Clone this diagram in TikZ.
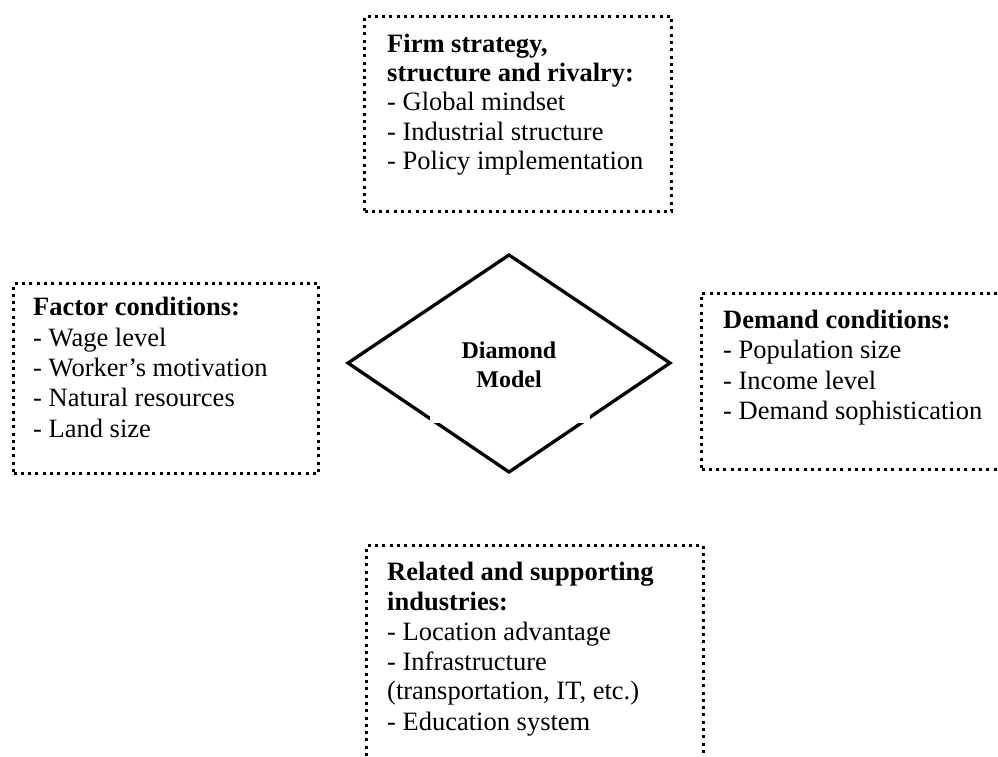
\documentclass[tikz,border=0pt]{standalone}
\usepackage{fontspec}
\setmainfont{Liberation Serif}
\begin{document}
\begin{tikzpicture}[x=1pt,y=-1pt,
  dotbox/.style={draw, line width=3pt, dash pattern=on 3pt off 4.3pt, inner sep=0pt, anchor=north west},
  txt/.style={anchor=base west, inner sep=0pt, font=\fontsize{26.5}{30}\selectfont},
  hd/.style={anchor=base west, inner sep=0pt, font=\fontsize{26.5}{30}\selectfont\bfseries},
  dtxt/.style={anchor=base, inner sep=0pt, font=\fontsize{24}{28}\selectfont\bfseries}]
\useasboundingbox (0,0) rectangle (998,757);
\clip (0,0) rectangle (998,757);

% boxes
\node[dotbox, minimum width=307pt, minimum height=195pt] (firm) at (363,15) {};
\node[dotbox, minimum width=305pt, minimum height=190pt] (factor) at (12,282) {};
\node[dotbox, minimum width=330pt, minimum height=176pt] (demand) at (700,292) {};
\node[dotbox, minimum width=337pt, minimum height=250pt] (related) at (365,544) {};

% firm strategy text
\node[hd]  (f1) at (387,53)  {Firm strategy,};
\node[hd]  (f2) at (387,82)  {structure and rivalry:};
\node[txt] (f3) at (387,111) {- Global mindset};
\node[txt] (f4) at (387,140) {- Industrial structure};
\node[txt] (f5) at (387,169) {- Policy implementation};

% factor conditions text
\node[hd]  (a1) at (33,315) {Factor conditions:};
\node[txt] (a2) at (33,346) {- Wage level};
\node[txt] (a3) at (33,376) {- Worker’s motivation};
\node[txt] (a4) at (33,406) {- Natural resources};
\node[txt] (a5) at (33,437) {- Land size};

% demand conditions text
\node[hd]  (d1) at (723,328) {Demand conditions:};
\node[txt] (d2) at (723,358) {- Population size};
\node[txt] (d3) at (723,389) {- Income level};
\node[txt] (d4) at (723,419) {- Demand sophistication};

% related industries text
\node[hd]  (r1) at (387,580) {Related and supporting};
\node[hd]  (r2) at (387,610) {industries:};
\node[txt] (r3) at (387,640) {- Location advantage};
\node[txt] (r4) at (387,670) {- Infrastructure};
\node[txt] (r5) at (387,699) {(transportation, IT, etc.)};
\node[txt] (r6) at (387,730) {- Education system};

% diamond
\coordinate (dt) at (509,255);
\coordinate (dr) at (670,363);
\coordinate (db) at (509,472);
\coordinate (dl) at (348,363);
\draw[line width=3.3pt] (dt) -- (dr) -- (db) -- (dl) -- cycle;
\fill[white] (430,415) rectangle (590,423);
\node[dtxt] (m1) at (509,358) {Diamond};
\node[dtxt] (m2) at (509,387) {Model};
\end{tikzpicture}
\end{document}
